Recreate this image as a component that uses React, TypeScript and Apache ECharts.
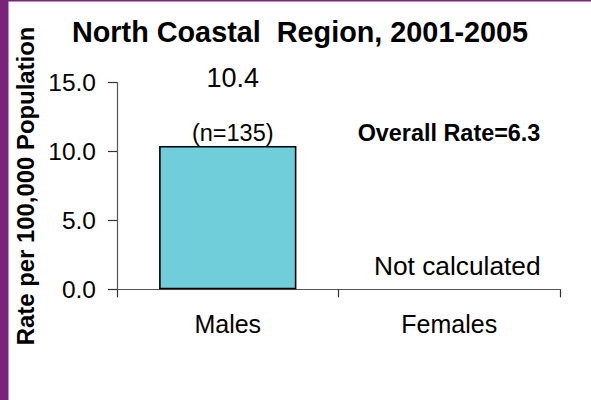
import React, { useEffect, useRef } from "react";
import * as echarts from "echarts";

const categories = ["Males", "Females"];
const rates: (number | null)[] = [10.4, null];
const counts: (number | null)[] = [135, null];
const overallRate = 6.3;
const yTickValues = [0, 5, 10, 15];
const titleText = "North Coastal  Region, 2001-2005";
const yAxisName = "Rate per 100,000 Population";
const notCalculatedText = "Not calculated";

const FONT = "'Liberation Sans', Arial, Helvetica, sans-serif";

export default function App() {
  const ref = useRef<HTMLDivElement>(null);

  useEffect(() => {
    if (!ref.current) return;
    const chart = echarts.init(ref.current, undefined, { renderer: "svg" });

    const data = categories.map((c, i) => {
      const r = rates[i];
      if (r != null) {
        return {
          value: r,
          label: {
            show: true,
            position: "top",
            distance: 0,
            offset: [5, 0],
            formatter: `{v|${r.toFixed(1)}}\n{n|(n=${counts[i]})}`,
            rich: {
              v: { fontSize: 27, lineHeight: 84, color: "#000", fontFamily: FONT },
              n: { fontSize: 23.5, lineHeight: 26, color: "#000", fontFamily: FONT },
            },
          },
        };
      }
      return {
        value: 0,
        itemStyle: { color: "transparent", borderWidth: 0 },
        label: {
          show: true,
          position: "top",
          distance: 10,
          offset: [8, 0],
          formatter: notCalculatedText,
          fontSize: 26.3,
          lineHeight: 26,
          color: "#000",
          fontFamily: FONT,
        },
      };
    });

    chart.setOption({
      animation: false,
      backgroundColor: "#fff",
      title: {
        text: titleText,
        left: 300,
        textAlign: "center",
        top: 17,
        padding: 0,
        textStyle: { fontSize: 28.8, fontWeight: "bold", color: "#000", fontFamily: FONT },
      },
      grid: { left: 117, right: 31, top: 82.6, bottom: 110.7, containLabel: false },
      xAxis: {
        type: "category",
        data: categories,
        axisLine: { show: true, lineStyle: { color: "#555", width: 1.2 } },
        axisTick: { show: true, length: 8, lineStyle: { color: "#333", width: 1.2 } },
        axisLabel: { fontSize: 25, color: "#000", margin: 22, fontFamily: FONT },
        splitLine: { show: false },
      },
      yAxis: {
        type: "value",
        min: yTickValues[0],
        max: yTickValues[yTickValues.length - 1],
        interval: yTickValues[1] - yTickValues[0],
        name: yAxisName,
        nameLocation: "middle",
        nameGap: 79,
        nameTextStyle: { fontSize: 23.9, fontWeight: "bold", color: "#000", fontFamily: FONT },
        axisLine: { show: true, lineStyle: { color: "#555", width: 1.2 } },
        axisTick: { show: true, length: 9, lineStyle: { color: "#333", width: 1.2 } },
        axisLabel: {
          fontSize: 24.5,
          color: "#000",
          margin: 21,
          fontFamily: FONT,
          formatter: (v: number) => v.toFixed(1),
        },
        splitLine: { show: false },
      },
      series: [
        {
          type: "bar",
          data,
          barWidth: "62%",
          itemStyle: { color: "#70CDDA", borderColor: "#000", borderWidth: 1.6 },
        },
      ],
      graphic: [
        { type: "rect", left: 0, top: 0, shape: { width: 8.5, height: 400 }, style: { fill: "#782479" }, silent: true },
        { type: "rect", left: 0, top: 0, shape: { width: 591, height: 1.5 }, style: { fill: "#782479" }, silent: true },
        {
          type: "text",
          x: 449,
          y: 133,
          style: {
            text: `Overall Rate=${overallRate.toFixed(1)}`,
            fill: "#000",
            font: `bold 23.4px ${FONT}`,
            textAlign: "center",
            textVerticalAlign: "middle",
          },
        },
      ],
    });

    return () => chart.dispose();
  }, []);

  return (
    <div
      ref={ref}
      style={{ position: "absolute", left: 0, top: 0, width: 591, height: 400 }}
    />
  );
}
